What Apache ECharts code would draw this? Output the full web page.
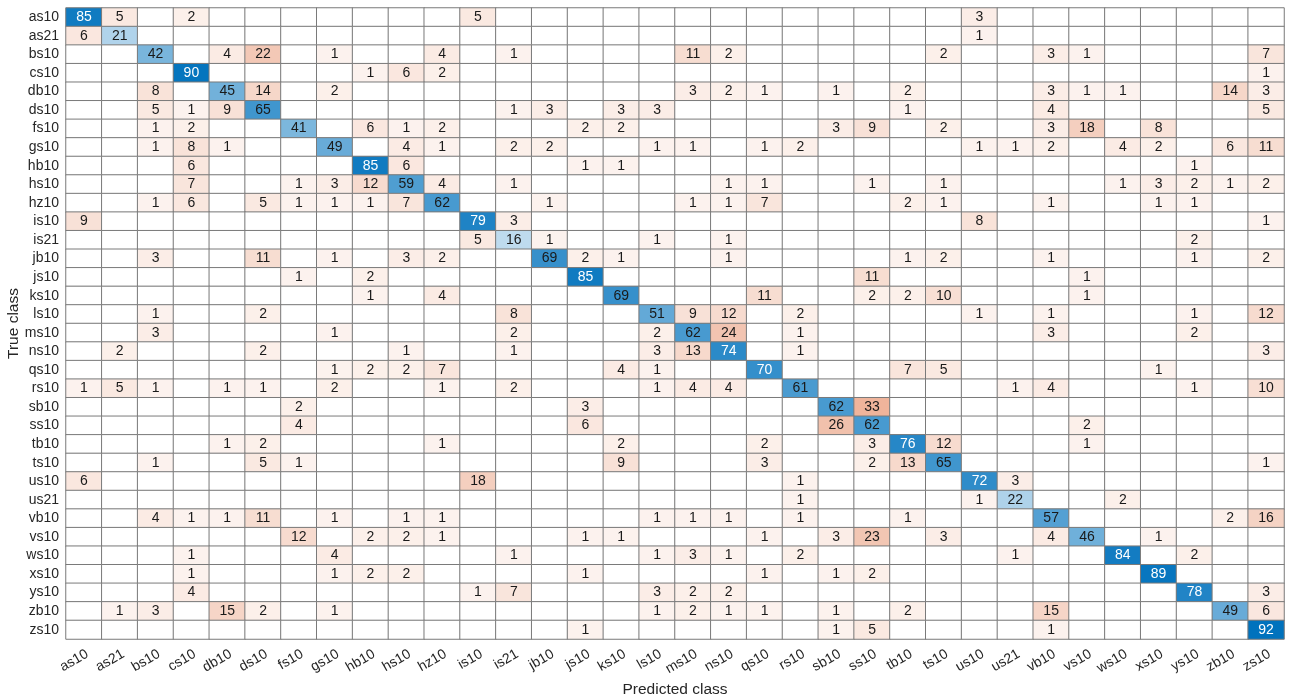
<!DOCTYPE html>
<html>
<head>
<meta charset="utf-8">
<title>Confusion matrix</title>
<script src="https://cdn.jsdelivr.net/npm/echarts@6/dist/echarts.min.js"></script>
<style>
  html, body { margin: 0; padding: 0; background: #ffffff; }
  #chart { width: 1291px; height: 699px; }
</style>
</head>
<body>
<div id="chart"></div>
<script>
// Class names (same order for true and predicted classes)
const classes = ['as10','as21','bs10','cs10','db10','ds10','fs10','gs10','hb10','hs10','hz10',
  'is10','is21','jb10','js10','ks10','ls10','ms10','ns10','qs10','rs10','sb10','ss10','tb10',
  'ts10','us10','us21','vb10','vs10','ws10','xs10','ys10','zb10','zs10'];

// Non-zero counts for each true class: [predicted class, count]
const rowAs10 = [['as10',85],['as21',5],['cs10',2],['is10',5],['us10',3]];
const rowAs21 = [['as10',6],['as21',21],['us10',1]];
const rowBs10 = [['bs10',42],['db10',4],['ds10',22],['gs10',1],['hz10',4],['is21',1],['ms10',11],['ns10',2],['ts10',2],['vb10',3],['vs10',1],['zs10',7]];
const rowCs10 = [['cs10',90],['hb10',1],['hs10',6],['hz10',2],['zs10',1]];
const rowDb10 = [['bs10',8],['db10',45],['ds10',14],['gs10',2],['ms10',3],['ns10',2],['qs10',1],['sb10',1],['tb10',2],['vb10',3],['vs10',1],['ws10',1],['zb10',14],['zs10',3]];
const rowDs10 = [['bs10',5],['cs10',1],['db10',9],['ds10',65],['is21',1],['jb10',3],['ks10',3],['ls10',3],['tb10',1],['vb10',4],['zs10',5]];
const rowFs10 = [['bs10',1],['cs10',2],['fs10',41],['hb10',6],['hs10',1],['hz10',2],['js10',2],['ks10',2],['sb10',3],['ss10',9],['ts10',2],['vb10',3],['vs10',18],['xs10',8]];
const rowGs10 = [['bs10',1],['cs10',8],['db10',1],['gs10',49],['hs10',4],['hz10',1],['is21',2],['jb10',2],['ls10',1],['ms10',1],['qs10',1],['rs10',2],['us10',1],['us21',1],['vb10',2],['ws10',4],['xs10',2],['zb10',6],['zs10',11]];
const rowHb10 = [['cs10',6],['hb10',85],['hs10',6],['js10',1],['ks10',1],['ys10',1]];
const rowHs10 = [['cs10',7],['fs10',1],['gs10',3],['hb10',12],['hs10',59],['hz10',4],['is21',1],['ns10',1],['qs10',1],['ss10',1],['ts10',1],['ws10',1],['xs10',3],['ys10',2],['zb10',1],['zs10',2]];
const rowHz10 = [['bs10',1],['cs10',6],['ds10',5],['fs10',1],['gs10',1],['hb10',1],['hs10',7],['hz10',62],['jb10',1],['ms10',1],['ns10',1],['qs10',7],['tb10',2],['ts10',1],['vb10',1],['xs10',1],['ys10',1]];
const rowIs10 = [['as10',9],['is10',79],['is21',3],['us10',8],['zs10',1]];
const rowIs21 = [['is10',5],['is21',16],['jb10',1],['ls10',1],['ns10',1],['ys10',2]];
const rowJb10 = [['bs10',3],['ds10',11],['gs10',1],['hs10',3],['hz10',2],['jb10',69],['js10',2],['ks10',1],['ns10',1],['tb10',1],['ts10',2],['vb10',1],['ys10',1],['zs10',2]];
const rowJs10 = [['fs10',1],['hb10',2],['js10',85],['ss10',11],['vs10',1]];
const rowKs10 = [['hb10',1],['hz10',4],['ks10',69],['qs10',11],['ss10',2],['tb10',2],['ts10',10],['vs10',1]];
const rowLs10 = [['bs10',1],['ds10',2],['is21',8],['ls10',51],['ms10',9],['ns10',12],['rs10',2],['us10',1],['vb10',1],['ys10',1],['zs10',12]];
const rowMs10 = [['bs10',3],['gs10',1],['is21',2],['ls10',2],['ms10',62],['ns10',24],['rs10',1],['vb10',3],['ys10',2]];
const rowNs10 = [['as21',2],['ds10',2],['hs10',1],['is21',1],['ls10',3],['ms10',13],['ns10',74],['rs10',1],['zs10',3]];
const rowQs10 = [['gs10',1],['hb10',2],['hs10',2],['hz10',7],['ks10',4],['ls10',1],['qs10',70],['tb10',7],['ts10',5],['xs10',1]];
const rowRs10 = [['as10',1],['as21',5],['bs10',1],['db10',1],['ds10',1],['gs10',2],['hz10',1],['is21',2],['ls10',1],['ms10',4],['ns10',4],['rs10',61],['us21',1],['vb10',4],['ys10',1],['zs10',10]];
const rowSb10 = [['fs10',2],['js10',3],['sb10',62],['ss10',33]];
const rowSs10 = [['fs10',4],['js10',6],['sb10',26],['ss10',62],['vs10',2]];
const rowTb10 = [['db10',1],['ds10',2],['hz10',1],['ks10',2],['qs10',2],['ss10',3],['tb10',76],['ts10',12],['vs10',1]];
const rowTs10 = [['bs10',1],['ds10',5],['fs10',1],['ks10',9],['qs10',3],['ss10',2],['tb10',13],['ts10',65],['zs10',1]];
const rowUs10 = [['as10',6],['is10',18],['rs10',1],['us10',72],['us21',3]];
const rowUs21 = [['rs10',1],['us10',1],['us21',22],['ws10',2]];
const rowVb10 = [['bs10',4],['cs10',1],['db10',1],['ds10',11],['gs10',1],['hs10',1],['hz10',1],['ls10',1],['ms10',1],['ns10',1],['rs10',1],['tb10',1],['vb10',57],['zb10',2],['zs10',16]];
const rowVs10 = [['fs10',12],['hb10',2],['hs10',2],['hz10',1],['js10',1],['ks10',1],['qs10',1],['sb10',3],['ss10',23],['ts10',3],['vb10',4],['vs10',46],['xs10',1]];
const rowWs10 = [['cs10',1],['gs10',4],['is21',1],['ls10',1],['ms10',3],['ns10',1],['rs10',2],['us21',1],['ws10',84],['ys10',2]];
const rowXs10 = [['cs10',1],['gs10',1],['hb10',2],['hs10',2],['js10',1],['qs10',1],['sb10',1],['ss10',2],['xs10',89]];
const rowYs10 = [['cs10',4],['is10',1],['is21',7],['ls10',3],['ms10',2],['ns10',2],['ys10',78],['zs10',3]];
const rowZb10 = [['as21',1],['bs10',3],['db10',15],['ds10',2],['gs10',1],['ls10',1],['ms10',2],['ns10',1],['qs10',1],['sb10',1],['tb10',2],['vb10',15],['zb10',49],['zs10',6]];
const rowZs10 = [['js10',1],['sb10',1],['ss10',5],['vb10',1],['zs10',92]];

const rows = [rowAs10,rowAs21,rowBs10,rowCs10,rowDb10,rowDs10,rowFs10,rowGs10,rowHb10,rowHs10,
  rowHz10,rowIs10,rowIs21,rowJb10,rowJs10,rowKs10,rowLs10,rowMs10,rowNs10,rowQs10,rowRs10,
  rowSb10,rowSs10,rowTb10,rowTs10,rowUs10,rowUs21,rowVb10,rowVs10,rowWs10,rowXs10,rowYs10,
  rowZb10,rowZs10];

// Shading: white blended toward the diagonal / off-diagonal base colour
const diagColor = [0, 114, 189];
const offColor = [217, 83, 25];

const n = classes.length;
const counts = classes.map(() => new Array(n).fill(0));
rows.forEach((row, r) => row.forEach(([pred, v]) => { counts[r][classes.indexOf(pred)] = v; }));
let maxCount = 0;
counts.forEach(r => r.forEach(v => { if (v > maxCount) maxCount = v; }));

function shade(base, v) {
  if (v <= 0) return '#ffffff';
  const a = 0.06 + 0.94 * Math.pow(v / maxCount, 0.9);
  const c = base.map(b => Math.round(255 - a * (255 - b)));
  return 'rgb(' + c.join(',') + ')';
}

const cells = [];
for (let r = 0; r < n; r++) {
  for (let c = 0; c < n; c++) {
    const v = counts[r][c];
    const diag = r === c;
    cells.push({
      value: [c, r, v],
      itemStyle: { color: shade(diag ? diagColor : offColor, v) },
      label: { color: diag && v >= 70 ? '#ffffff' : '#1a1a1a' }
    });
  }
}

const chart = echarts.init(document.getElementById('chart'), null, { renderer: 'canvas' });
const font = '"Liberation Sans", Arial, Helvetica, sans-serif';
chart.setOption({
  animation: false,
  backgroundColor: '#ffffff',
  grid: { left: 66, top: 8, width: 1218, height: 631, show: false, containLabel: false, outerBoundsMode: 'none' },
  xAxis: {
    type: 'category',
    data: classes,
    position: 'bottom',
    axisLine: { show: false },
    axisTick: { show: false },
    splitLine: { show: false },
    axisLabel: {
      rotate: 30, align: 'right', verticalAlign: 'top',
      fontSize: 14, color: '#262626', fontFamily: font, margin: 8, interval: 0
    },
    name: 'Predicted class',
    nameLocation: 'middle',
    nameMoveOverlap: false,
    nameGap: 43,
    nameTextStyle: { fontSize: 15.5, color: '#262626', fontFamily: font, verticalAlign: 'top' }
  },
  yAxis: {
    type: 'category',
    data: classes,
    inverse: true,
    axisLine: { show: false },
    axisTick: { show: false },
    splitLine: { show: false },
    axisLabel: { fontSize: 14, color: '#262626', fontFamily: font, margin: 7, interval: 0 },
    name: 'True class',
    nameLocation: 'middle',
    nameMoveOverlap: false,
    nameGap: 44,
    nameRotate: 90,
    nameTextStyle: { fontSize: 15.5, color: '#262626', fontFamily: font }
  },
  series: [{
    type: 'heatmap',
    data: cells,
    itemStyle: { borderColor: '#7a7a7a', borderWidth: 1 },
    label: {
      show: true,
      fontSize: 14,
      fontFamily: font,
      formatter: p => (p.value[2] > 0 ? String(p.value[2]) : '')
    },
    emphasis: { disabled: true }
  }]
});
</script>
</body>
</html>
